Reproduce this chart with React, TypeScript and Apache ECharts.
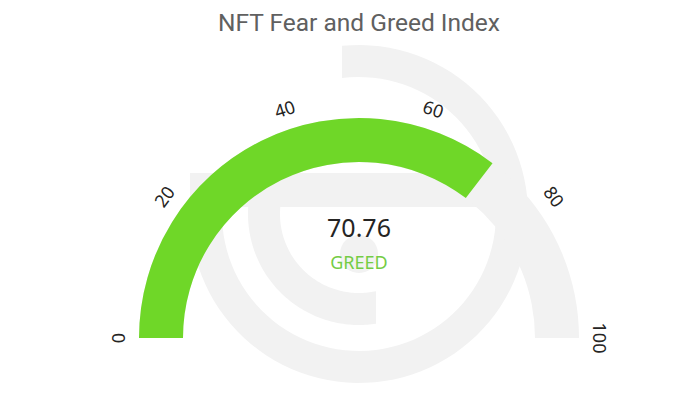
import React, { useEffect, useRef } from 'react';
import * as echarts from 'echarts';

// ---- data ----
const chartTitle = 'NFT Fear and Greed Index';
const indexValue = [70.76];
const sentimentLabel = ['GREED'];
const scaleMin = 0;
const scaleMax = 100;
const scaleSteps = 5;

// ---- watermark geometry helpers ----
function arcPoints(cx: number, cy: number, r: number, a0: number, a1: number, n = 90): number[][] {
  const pts: number[][] = [];
  for (let i = 0; i <= n; i++) {
    const a = a0 + ((a1 - a0) * i) / n;
    pts.push([cx + r * Math.cos(a), cy + r * Math.sin(a)]);
  }
  return pts;
}

function bandPolygon(cx: number, cy: number, rOut: number, rIn: number, o0: number, o1: number, i0: number, i1: number) {
  return arcPoints(cx, cy, rOut, o0, o1).concat(arcPoints(cx, cy, rIn, i1, i0));
}

export default function App() {
  const ref = useRef<HTMLDivElement>(null);

  useEffect(() => {
    document.body.style.margin = '0';
    const chart = echarts.init(ref.current!, null, { renderer: 'svg' });

    const LX = 359;
    const LY = 214;
    const wm = '#f2f2f2';

    const ringA = bandPolygon(
      LX, LY, 169, 137,
      -Math.PI / 2 - Math.asin(17 / 169), Math.PI + Math.asin(41 / 169),
      -Math.PI / 2 - Math.asin(17 / 137), Math.PI + Math.asin(41 / 137)
    );
    const ringB = bandPolygon(
      LX, LY, 111, 79,
      Math.acos(17 / 111), Math.PI + Math.asin(7 / 111),
      Math.acos(17 / 79), Math.PI + Math.asin(7 / 79)
    );

    const option: any = {
      animation: false,
      title: {
        text: chartTitle,
        left: 218,
        top: 10,
        padding: 0,
        textStyle: {
          fontFamily: 'Roboto',
          fontSize: 24.5,
          fontWeight: 'normal',
          color: '#606060',
        },
      },
      graphic: [
        { type: 'polygon', z: -1, shape: { points: ringA }, style: { fill: wm } },
        { type: 'polygon', z: -1, shape: { points: ringB }, style: { fill: wm } },
        { type: 'rect', z: -1, shape: { x: 190, y: 173, width: 306, height: 34 }, style: { fill: wm } },
        { type: 'circle', z: -1, shape: { cx: LX, cy: 254, r: 19 }, style: { fill: wm } },
      ],
      series: [
        {
          type: 'gauge',
          center: [359, 338],
          radius: 220,
          startAngle: 180,
          endAngle: 0,
          min: scaleMin,
          max: scaleMax,
          splitNumber: scaleSteps,
          axisLine: { lineStyle: { width: 44, color: [[1, '#f2f2f2']] } },
          progress: { show: true, width: 44, itemStyle: { color: '#6fd728' } },
          pointer: { show: false },
          anchor: { show: false },
          axisTick: { show: false },
          splitLine: { show: false, distance: 0, length: 0 },
          axisLabel: {
            distance: -21,
            rotate: 'tangential',
            fontSize: 18,
            color: '#252423',
            fontFamily: 'Noto Sans',
          },
          title: {
            offsetCenter: [0, -76],
            fontSize: 18,
            color: '#74cc45',
            fontFamily: 'Noto Sans',
          },
          detail: {
            offsetCenter: [0, -111],
            fontSize: 25,
            fontWeight: 'normal',
            color: '#252423',
            fontFamily: 'Noto Sans',
            formatter: (v: number) => v.toFixed(2),
          },
          data: [{ value: indexValue[0], name: sentimentLabel[0] }],
        },
      ],
    };

    chart.setOption(option);
    return () => chart.dispose();
  }, []);

  return <div ref={ref} style={{ width: 700, height: 394 }} />;
}
